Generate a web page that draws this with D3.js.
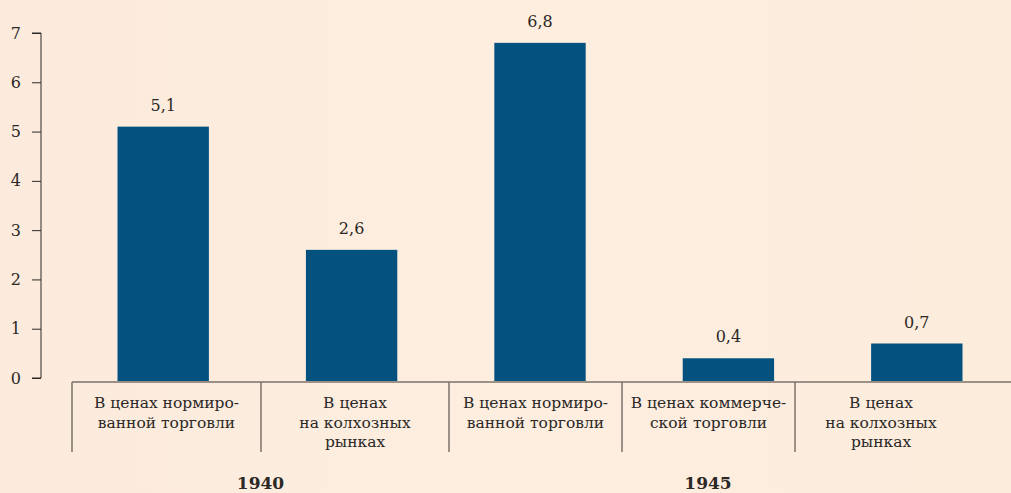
<!DOCTYPE html>
<html>
<head>
<meta charset="utf-8">
<script src="https://cdn.jsdelivr.net/npm/d3@7"></script>
<style>
  html, body { margin: 0; padding: 0; }
  body { width: 1011px; height: 493px; overflow: hidden;
         background: linear-gradient(90deg, #fcebdc 0%, #fdeee0 50%, #fcecdc 100%); }
  svg { display: block; }
</style>
</head>
<body>
<svg id="chart" width="1011" height="493"></svg>
<script>
// Categories (two-line or three-line labels), values and years
const categories = [
  ["В ценах нормиро-", "ванной торговли"],
  ["В ценах", "на колхозных", "рынках"],
  ["В ценах нормиро-", "ванной торговли"],
  ["В ценах коммерче-", "ской торговли"],
  ["В ценах", "на колхозных", "рынках"]
];
const values = [5.1, 2.6, 6.8, 0.4, 0.7];
const valueLabels = ["5,1", "2,6", "6,8", "0,4", "0,7"];
const yTicks = [0, 1, 2, 3, 4, 5, 6, 7];
const years = ["1940", "1945"];
const yearSpans = [[0, 2], [2, 5]]; // column ranges each year heading covers

const FONT = "'DejaVu Serif', 'Liberation Serif', serif";
const textColor = "#2b2826";
const barColor = "#02517f";
const lineColor = "#7b7269";

const svg = d3.select("#chart");

const y = d3.scaleLinear().domain([0, 7]).range([378, 33]);
const x = d3.scaleBand().domain(d3.range(values.length)).range([69, 1011]).paddingInner(0.515).paddingOuter(0.2575);
// table column boundaries under the bars
const col = d3.scaleLinear().domain([0, 1, 2, 3, 4, 5]).range([72, 261, 449, 622, 795, 967]);

// Y axis
const yAxis = d3.axisLeft(y).tickValues(yTicks).tickSize(9).tickPadding(11).tickFormat(d3.format("d"));
const gy = svg.append("g").attr("transform", "translate(41,0)").call(yAxis);
gy.select(".domain").attr("stroke", textColor).attr("d", `M-9,${y(7)}H0V${y(0)}H-9`);
gy.selectAll(".tick line").attr("stroke", textColor);
gy.selectAll(".tick text")
  .style("font-family", FONT).style("font-size", "16px").attr("fill", textColor);

// Bars
svg.append("g").selectAll("rect").data(values).join("rect")
  .attr("x", (d, i) => x(i))
  .attr("width", x.bandwidth())
  .attr("y", d => y(d))
  .attr("height", d => y(0) - y(d) + 3)
  .attr("fill", barColor);

// Value labels
svg.append("g").selectAll("text").data(values).join("text")
  .attr("x", (d, i) => x(i) + x.bandwidth() / 2)
  .attr("y", d => y(d) - 16)
  .attr("text-anchor", "middle")
  .style("font-family", FONT).style("font-size", "16px")
  .attr("fill", textColor)
  .text((d, i) => valueLabels[i]);

// Table: base line and column dividers
const tableTop = 382, tableBottom = 452;
svg.append("line").attr("x1", col(0)).attr("x2", 1011).attr("y1", tableTop).attr("y2", tableTop)
  .attr("stroke", lineColor).attr("stroke-width", 1.5);
svg.append("g").selectAll("line").data(d3.range(5)).join("line")
  .attr("x1", d => col(d)).attr("x2", d => col(d))
  .attr("y1", tableTop).attr("y2", tableBottom)
  .attr("stroke", lineColor).attr("stroke-width", 1.5);

// Category labels
const lab = svg.append("g").selectAll("text").data(categories).join("text")
  .attr("text-anchor", "middle")
  .style("font-family", FONT).style("font-size", "15.5px")
  .attr("fill", textColor)
  .attr("transform", (d, i) => `translate(${(col(i) + col(i + 1)) / 2},408)`);
lab.selectAll("tspan").data(d => d).join("tspan")
  .attr("x", 0).attr("dy", (d, j) => j === 0 ? 0 : 19.5)
  .text(d => d);

// Year headings
svg.append("g").selectAll("text").data(years).join("text")
  .attr("x", (d, i) => (col(yearSpans[i][0]) + col(yearSpans[i][1])) / 2)
  .attr("y", 489)
  .attr("text-anchor", "middle")
  .style("font-family", FONT).style("font-size", "17px").style("font-weight", "bold")
  .attr("fill", textColor)
  .text(d => d);
</script>
</body>
</html>
